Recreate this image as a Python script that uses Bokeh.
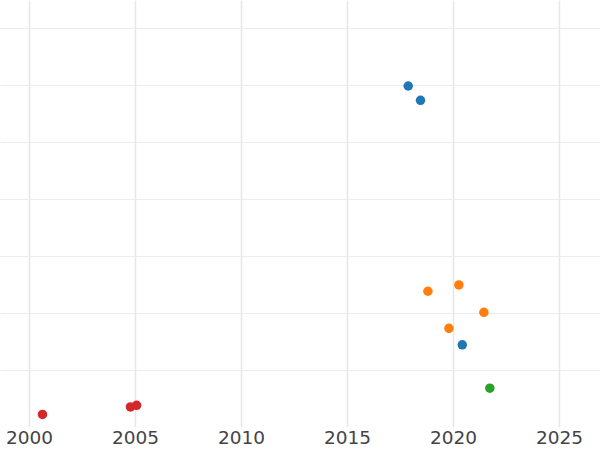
from bokeh.plotting import figure
from bokeh.models import Range1d, FixedTicker
from bokeh.embed import file_html
from bokeh.resources import INLINE

# data
red_x = [2000.61, 2004.76, 2005.05]
red_y = [0.23, 0.36, 0.39]
green_x = [2021.71]
green_y = [0.69]
blue_x = [2020.41, 2017.86, 2018.44]
blue_y = [1.45, 5.99, 5.74]
orange_x = [2018.79, 2020.25, 2021.43, 2019.78]
orange_y = [2.39, 2.50, 2.02, 1.74]
x_ticks = [2000, 2005, 2010, 2015, 2020, 2025]
y_ticks = [1, 2, 3, 4, 5, 6, 7]

p = figure(frame_width=600, frame_height=427, output_backend="svg", toolbar_location=None,
           x_range=Range1d(1998.63, 2026.93), y_range=Range1d(0, 7.49), min_border=0)
p.outline_line_color = None
p.background_fill_color = "white"

for xs, ys, c in [(blue_x, blue_y, "#1f77b4"), (orange_x, orange_y, "#ff7f0e"),
                  (green_x, green_y, "#2ca02c"), (red_x, red_y, "#d62728")]:
    p.scatter(xs, ys, size=9.5, color=c, line_color=None)

p.xaxis.ticker = FixedTicker(ticks=x_ticks)
p.yaxis.ticker = FixedTicker(ticks=y_ticks)
p.yaxis.visible = False
p.xaxis.axis_line_color = None
p.xaxis.major_tick_line_color = None
p.xaxis.minor_tick_line_color = None
p.xaxis.major_tick_out = 0
p.xaxis.major_tick_in = 0
p.xaxis.minor_tick_out = 0
p.xaxis.major_label_text_font = "DejaVu Sans"
p.xaxis.major_label_text_font_size = "18.5px"
p.xaxis.major_label_text_color = "#444444"
p.xaxis.major_label_standoff = 3
p.xgrid.grid_line_color = "#e6e6e6"
p.xgrid.grid_line_width = 1.5
p.ygrid.grid_line_color = "#ececec"
p.ygrid.grid_line_width = 1

open("out.html", "w").write(file_html(p, INLINE))
